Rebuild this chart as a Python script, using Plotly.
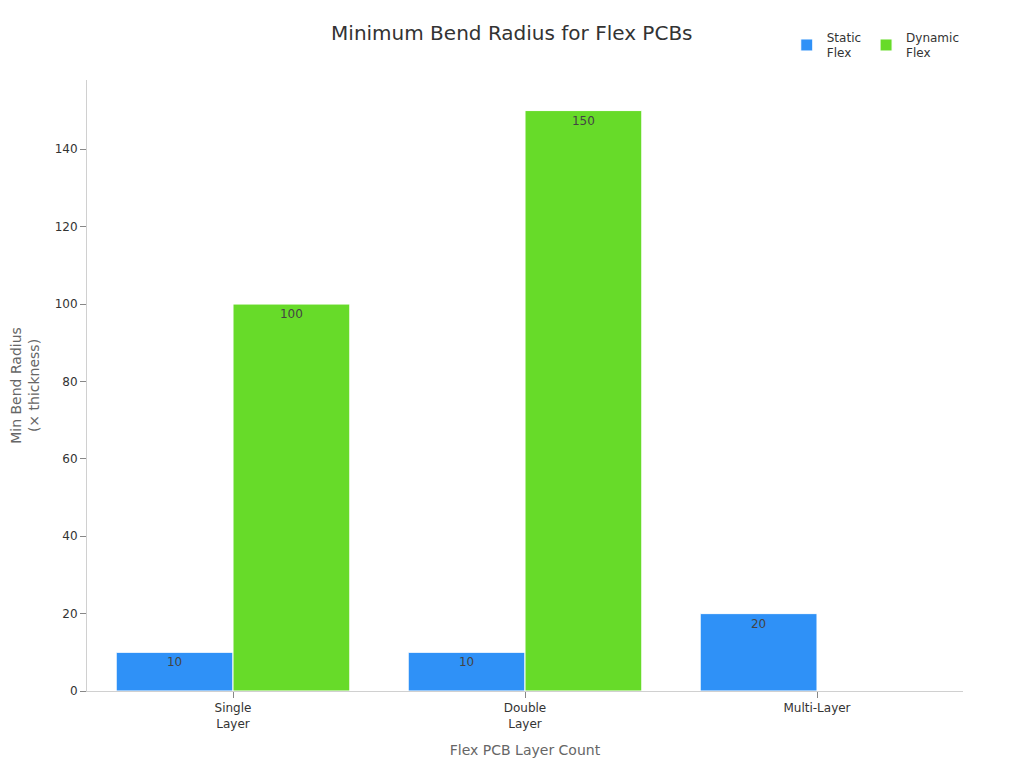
import plotly.graph_objects as go

categories = ['Single<br>Layer', 'Double<br>Layer', 'Multi-Layer']
static_flex = [10, 10, 20]
dynamic_flex = [100, 150, None]

font = 'DejaVu Sans, Noto Sans, sans-serif'

fig = go.Figure()
fig.add_trace(go.Bar(
    x=categories, y=static_flex, name='Static<br>Flex',
    marker=dict(color='#2F91F7', line=dict(color='white', width=1)),
    text=static_flex, textposition='inside', insidetextanchor='end',
    textfont=dict(color='#444444', size=12),
))
fig.add_trace(go.Bar(
    x=categories, y=dynamic_flex, name='Dynamic<br>Flex',
    marker=dict(color='#67DB29', line=dict(color='white', width=1)),
    text=[100, 150, ''], textposition='inside', insidetextanchor='end',
    textfont=dict(color='#444444', size=12),
))

fig.update_layout(
    width=1024, height=768,
    title=dict(text='Minimum Bend Radius for Flex PCBs', x=0.492, y=0.976,
               xanchor='center', font=dict(size=20, color='#333333')),
    font=dict(family=font, size=12, color='#333333'),
    plot_bgcolor='white', paper_bgcolor='white',
    barmode='group', bargap=0.2, bargroupgap=0,
    margin=dict(l=79, r=69, t=72, b=85),
    legend=dict(orientation='h', x=1.002, xanchor='right', y=1.0935, yanchor='top',
                font=dict(size=12, color='#333333')),
    uniformtext=dict(mode='show', minsize=12),
)
fig.update_xaxes(
    title=dict(text='Flex PCB Layer Count', font=dict(size=14, color='#666666')),
    showline=True, linecolor='#d0d0d0', linewidth=1,
    ticks='outside', tickcolor='#888888', ticklen=6,
    showgrid=False, automargin=False,
)
fig.update_yaxes(
    title=dict(text='Min Bend Radius<br>(× thickness)', font=dict(size=14, color='#666666')),
    showline=True, linecolor='#d0d0d0', linewidth=1,
    ticks='outside', tickcolor='#888888', ticklen=6,
    showgrid=False, zeroline=False, range=[0, 157.9], dtick=20,
    automargin=False,
)

fig.write_html("out.html")
